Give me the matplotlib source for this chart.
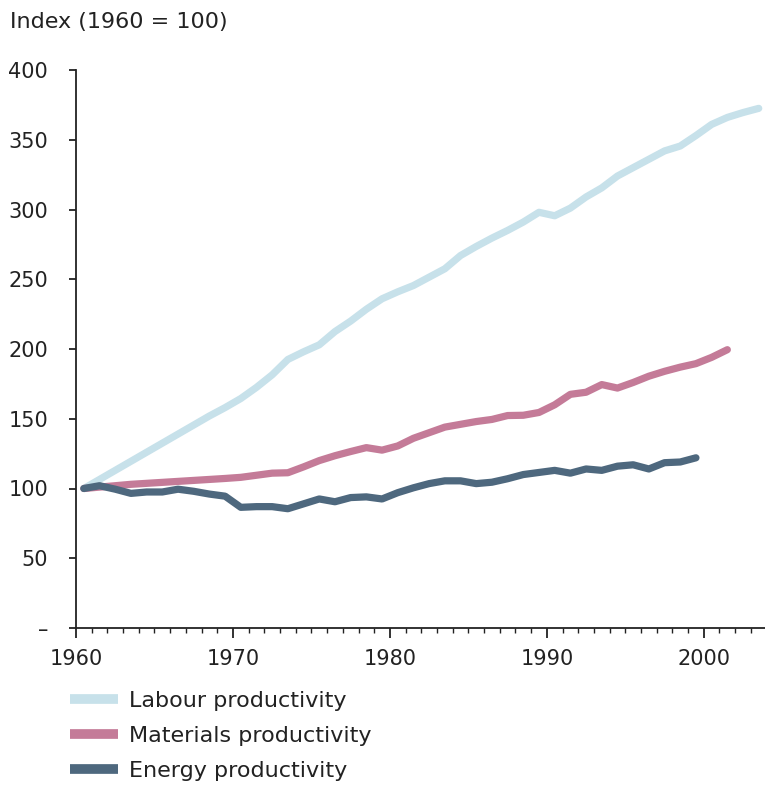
import matplotlib
matplotlib.use("Agg")
import matplotlib.pyplot as plt
from matplotlib.ticker import MultipleLocator
import numpy as np

labour_years = list(range(1960, 2004))
labour = [100, 106.5, 113, 119.5, 126, 132.5, 139, 145.5, 152, 158,
          164.5, 172.5, 181.5, 192.5, 198, 203, 212.5, 220, 228.5, 236,
          241, 245.5, 251.5, 257.5, 267, 273.5, 279.5, 285, 291, 298,
          295.5, 301, 309, 315.5, 324, 330, 336, 342, 345.5, 353,
          361, 366, 369.5, 372.5]

materials_years = list(range(1960, 2002))
materials = [100, 101, 102, 103, 103.7, 104.4, 105.1, 105.8, 106.5, 107.2,
             108, 109.5, 111, 111.3, 115.5, 120, 123.5, 126.5, 129.3, 127.5,
             130.5, 136, 140, 144, 146, 148, 149.5, 152.3, 152.5, 154.5,
             160, 167.5, 169, 174.5, 172, 176, 180.5, 184, 187, 189.5,
             194, 199.5]

energy_years = list(range(1960, 2000))
energy = [100, 102, 99.5, 96.5, 97.5, 97.5, 99.5, 98, 96, 94.5,
          86.5, 87, 87, 85.5, 89, 92.5, 90.5, 93.5, 94, 92.5,
          97, 100.5, 103.5, 105.5, 105.5, 103.5, 104.5, 107, 110, 111.5,
          113, 111, 114, 113, 116, 117, 114, 118.5, 119, 122]

series_labels = ["Labour productivity", "Materials productivity", "Energy productivity"]
colors = ["#c7e1ea", "#c47b98", "#4e687e"]

y_ticks = [0, 50, 100, 150, 200, 250, 300, 350, 400]
y_ticklabels = ["\u2013", "50", "100", "150", "200", "250", "300", "350", "400"]
x_ticks = [1960, 1970, 1980, 1990, 2000]

plt.rcParams['font.family'] = ['DejaVu Sans']
fig = plt.figure(figsize=(7.65, 7.87), dpi=100)
ax = fig.add_axes([76/765, 1 - 628/787, 1 - 76/765, (628 - 70)/787])

for yrs, vals, lab, col in zip([labour_years, materials_years, energy_years],
                               [labour, materials, energy], series_labels, colors):
    x = np.array(yrs) + 0.5
    ax.plot(x, vals, color=col, lw=5.2, label=lab, solid_capstyle='round', solid_joinstyle='round')

ax.set_xlim(1960, 2003.9)
ax.set_ylim(0, 400)
ax.set_yticks(y_ticks)
ax.set_yticklabels(y_ticklabels)
ax.set_xticks(x_ticks)
ax.set_xticklabels([str(t) for t in x_ticks])
ax.xaxis.set_minor_locator(MultipleLocator(1))
for s in ["top", "right"]:
    ax.spines[s].set_visible(False)
for s in ["left", "bottom"]:
    ax.spines[s].set_linewidth(1.3)
    ax.spines[s].set_color("#222222")
ax.tick_params(axis='y', direction='out', length=5, width=1.3, pad=15, labelsize=15, colors="#222222")
ax.tick_params(axis='x', which='major', direction='out', length=7, width=1.3, pad=8, labelsize=15, colors="#222222")
ax.tick_params(axis='x', which='minor', direction='out', length=3.5, width=1.0, colors="#222222")

fig.text(10/765, 1 - 22/787, "Index (1960 = 100)", fontsize=16, va='center', ha='left', color="#222222")

leg = ax.legend(loc='upper left', bbox_to_anchor=(70/765, 1 - 691/787), bbox_transform=fig.transFigure,
                frameon=False, fontsize=16, handlelength=2.15, handletextpad=0.5, labelspacing=0.68,
                borderaxespad=0, borderpad=0)
for line in leg.get_lines():
    line.set_linewidth(7)
    line.set_solid_capstyle('butt')
for t in leg.get_texts():
    t.set_color("#222222")

fig.savefig("out.png", dpi=100)
